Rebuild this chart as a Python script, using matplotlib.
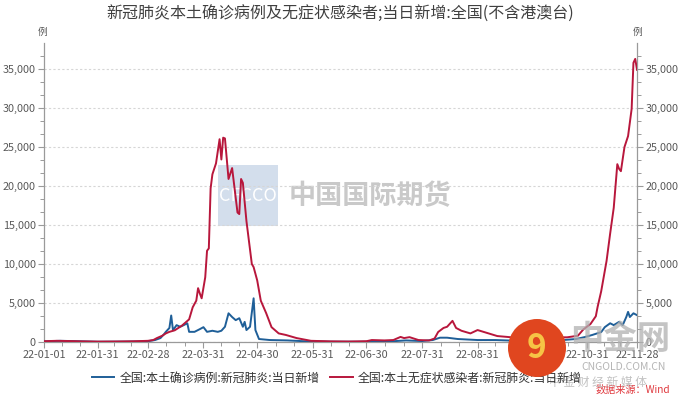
import matplotlib
matplotlib.use('Agg')
import matplotlib.pyplot as plt
from matplotlib.patches import Ellipse, Rectangle
import pandas as pd
import numpy as np

plt.rcParams['font.family'] = ['Noto Sans CJK SC', 'DejaVu Sans']

title = '新冠肺炎本土确诊病例及无症状感染者;当日新增:全国(不含港澳台)'
label_conf = '全国:本土确诊病例:新冠肺炎:当日新增'
label_asym = '全国:本土无症状感染者:新冠肺炎:当日新增'

# 全国:本土无症状感染者 (red)
asym_dates = ['2022-01-01', '2022-01-08', '2022-01-15', '2022-01-22', '2022-01-31', '2022-02-10',
              '2022-02-20', '2022-02-28', '2022-03-03', '2022-03-05', '2022-03-08', '2022-03-10',
              '2022-03-12', '2022-03-15', '2022-03-17', '2022-03-19', '2022-03-21', '2022-03-23',
              '2022-03-25', '2022-03-27', '2022-03-28', '2022-03-29', '2022-03-30', '2022-04-01',
              '2022-04-02', '2022-04-03', '2022-04-04', '2022-04-05', '2022-04-07', '2022-04-09',
              '2022-04-10', '2022-04-11', '2022-04-12', '2022-04-14', '2022-04-16', '2022-04-18',
              '2022-04-19', '2022-04-20', '2022-04-21', '2022-04-22', '2022-04-24', '2022-04-27',
              '2022-04-28', '2022-04-30', '2022-05-02', '2022-05-05', '2022-05-08', '2022-05-11',
              '2022-05-12', '2022-05-16', '2022-05-22', '2022-05-30', '2022-06-10', '2022-06-20',
              '2022-06-30', '2022-07-03', '2022-07-10', '2022-07-15', '2022-07-19', '2022-07-21',
              '2022-07-24', '2022-07-29', '2022-08-04', '2022-08-07', '2022-08-09', '2022-08-12',
              '2022-08-14', '2022-08-17', '2022-08-19', '2022-08-22', '2022-08-27', '2022-08-31',
              '2022-09-05', '2022-09-11', '2022-09-19', '2022-09-24', '2022-09-30', '2022-10-08',
              '2022-10-14', '2022-10-20', '2022-10-26', '2022-10-29', '2022-11-02', '2022-11-05',
              '2022-11-06', '2022-11-08', '2022-11-11', '2022-11-13', '2022-11-15', '2022-11-17',
              '2022-11-18', '2022-11-19', '2022-11-21', '2022-11-23', '2022-11-25', '2022-11-26',
              '2022-11-27', '2022-11-28']
asym_vals = [100, 150, 120, 80, 50, 60,
             90, 150, 250, 500, 800, 1100,
             1300, 1500, 1800, 2100, 2500, 2900,
             4450, 5300, 6900, 6200, 5600, 8300,
             11700, 12000, 19700, 21500, 22900, 26000,
             23400, 26200, 26100, 20900, 22300, 18500,
             16600, 16400, 20900, 20400, 15500, 10000,
             9600, 7900, 5300, 3700, 1900, 1300,
             1100, 900, 500, 150, 80, 60,
             100, 250, 200, 250, 650, 500,
             620, 250, 200, 450, 1280, 1800,
             1950, 2710, 1800, 1440, 1100, 1530,
             1180, 760, 600, 500, 500, 550,
             600, 600, 800, 1600, 2300, 3300,
             4500, 6500, 10400, 13900, 17200, 22800,
             22200, 21900, 25000, 26400, 29900, 35800,
             36300, 34900]

# 全国:本土确诊病例 (blue)
conf_dates = ['2022-01-01', '2022-01-10', '2022-01-20', '2022-01-31', '2022-02-15', '2022-02-28',
              '2022-03-04', '2022-03-07', '2022-03-09', '2022-03-10', '2022-03-12', '2022-03-13',
              '2022-03-14', '2022-03-16', '2022-03-18', '2022-03-20', '2022-03-22', '2022-03-23',
              '2022-03-26', '2022-03-29', '2022-03-31', '2022-04-02', '2022-04-05', '2022-04-08',
              '2022-04-10', '2022-04-12', '2022-04-14', '2022-04-16', '2022-04-18', '2022-04-20',
              '2022-04-22', '2022-04-23', '2022-04-24', '2022-04-26', '2022-04-28', '2022-04-29',
              '2022-05-01', '2022-05-07', '2022-05-17', '2022-05-26', '2022-06-10', '2022-06-25',
              '2022-07-05', '2022-07-15', '2022-07-22', '2022-07-31', '2022-08-06', '2022-08-10',
              '2022-08-14', '2022-08-20', '2022-08-31', '2022-09-10', '2022-09-20', '2022-10-01',
              '2022-10-15', '2022-10-25', '2022-10-30', '2022-11-03', '2022-11-08', '2022-11-10',
              '2022-11-13', '2022-11-15', '2022-11-18', '2022-11-20', '2022-11-22', '2022-11-23',
              '2022-11-24', '2022-11-26', '2022-11-28']
conf_vals = [80, 150, 100, 30, 50, 100,
             250, 500, 1000, 1300, 1800, 3400,
             1500, 2160, 1950, 2160, 2400, 1300,
             1300, 1650, 1900, 1300, 1440, 1300,
             1440, 1950, 3680, 3200, 2800, 3050,
             1950, 2580, 1530, 1950, 5600, 1530,
             380, 250, 200, 100, 40, 30,
             60, 100, 200, 120, 250, 550,
             550, 380, 250, 250, 170, 130,
             200, 380, 640, 900, 1270, 1900,
             2400, 2160, 2580, 2160, 3200, 3860,
             3200, 3680, 3440]

tick_dates = ['2022-01-01', '2022-01-31', '2022-02-28', '2022-03-31', '2022-04-30', '2022-05-31',
              '2022-06-30', '2022-07-31', '2022-08-31', '2022-09-30', '2022-10-31', '2022-11-28']
tick_labels = ['22-01-01', '22-01-31', '22-02-28', '22-03-31', '22-04-30', '22-05-31',
               '22-06-30', '22-07-31', '22-08-31', '22-09-30', '22-10-31', '22-11-28']
y_ticks = [0, 5000, 10000, 15000, 20000, 25000, 30000, 35000]

blue = '#1f5f98'
red = '#b8173c'
gray_txt = '#595959'
spine_c = '#9a9a9a'

fig = plt.figure(figsize=(6.8, 3.99), dpi=100)
ax = fig.add_axes([0.0647, 0.1429, 0.8721, 0.7486])

# watermark box (CFCCO)
fig.patches.append(Rectangle((218/680, 1-226/399), 60/680, 61/399, transform=fig.transFigure,
                             facecolor='#c5d3e6', alpha=0.75, edgecolor='none', zorder=0))
fig.text(248/680, 1-196/399, 'CFCCO', color='white', fontsize=13, ha='center', va='center', zorder=1)
fig.text(370/680, 1-196/399, '中国国际期货', color='#c9c9c9', fontsize=19.5, ha='center', va='center',
         fontweight='bold', zorder=1)
ax.set_zorder(2)
ax.patch.set_alpha(0)

tk = pd.to_datetime(tick_dates)
ax.plot(pd.to_datetime(conf_dates), conf_vals, color=blue, lw=1.4, label=label_conf, zorder=3)
ax.plot(pd.to_datetime(asym_dates), asym_vals, color=red, lw=1.4, label=label_asym, zorder=3)

ax.set_xlim(tk[0], tk[-1])
ax.set_ylim(0, 38300)

ax.set_xticks(tk)
ax.set_xticklabels(tick_labels)
minor_x = []
for a, b in zip(tk[:-1], tk[1:]):
    d = (b - a) / 3
    minor_x += [a + d, a + 2 * d]
ax.set_xticks(minor_x, minor=True)

ax.set_yticks(y_ticks)
ax.set_yticklabels([f'{v:,}' for v in y_ticks])
ax.set_yticks(np.arange(0, 38300, 5000 / 3), minor=True)

ax.tick_params(axis='both', which='major', labelsize=7.8, colors=spine_c, labelcolor=gray_txt,
               length=4, width=0.8, direction='out', pad=2)
ax.tick_params(axis='both', which='minor', colors=spine_c, length=3, width=0.7, direction='out')
ax.tick_params(axis='y', which='both', right=True, labelright=True)

ax.grid(axis='y', which='major', color='#d6d6d6', linestyle=(0, (2, 2)), lw=0.8)
ax.set_axisbelow(True)

for s in ['left', 'right', 'bottom']:
    ax.spines[s].set_color(spine_c)
    ax.spines[s].set_linewidth(0.9)
ax.spines['top'].set_visible(False)

fig.text(0.5, 1-14/399, title, ha='center', va='center', fontsize=11.5, color='#404040')
fig.text(43/680, 1-32/399, '例', ha='center', va='center', fontsize=7, color=gray_txt)
fig.text(638/680, 1-32/399, '例', ha='center', va='center', fontsize=7, color=gray_txt)

fig.legend(loc='center', bbox_to_anchor=(0.495, 1-378/399), ncol=2, frameon=False,
           fontsize=8.6, handlelength=1.9, handletextpad=0.4, columnspacing=0.9,
           labelcolor='#333333')

# cngold watermark
fig.text(620/680, 1-339/399, '中金网', ha='center', va='center', fontsize=24, color='#b0b0b0',
         fontweight='bold', alpha=0.75, zorder=5)
fig.text(624/680, 1-367/399, 'CNGOLD.COM.CN', ha='center', va='center', fontsize=7.5,
         color='#b5b5b5', zorder=5)
fig.text(598/680, 1-382/399, '中 金 财 经 新 媒 体', ha='center', va='center', fontsize=8.5,
         color='#c2c2c2', zorder=5)
logo = Ellipse((537/680, 1-348/399), 58/680, 58/399, transform=fig.transFigure,
               facecolor='#e0461f', edgecolor='none', zorder=6)
fig.patches.append(logo)
fig.text(536/680, 1-349/399, '9', ha='center', va='center', fontsize=24, color='#f6c445',
         fontweight='bold', zorder=7)

fig.text(670/680, 1-390/399, '数据来源：Wind', ha='right', va='center', fontsize=7.3, color='#e0393e')

fig.savefig('out.png', dpi=100)
